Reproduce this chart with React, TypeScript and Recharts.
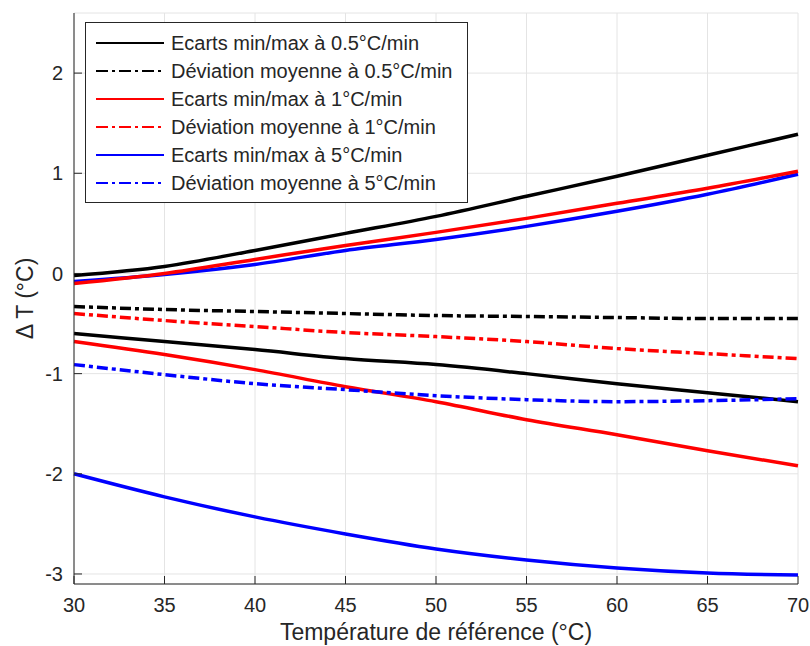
import { CartesianGrid, Label, Legend, Line, LineChart, XAxis, YAxis } from "recharts";

const temps = [30, 35, 40, 45, 50, 55, 60, 65, 70];

const black05Max = [-0.02, 0.07, 0.23, 0.4, 0.57, 0.77, 0.97, 1.18, 1.39];
const black05Mean = [-0.33, -0.36, -0.38, -0.4, -0.42, -0.43, -0.44, -0.45, -0.45];
const black05Min = [-0.6, -0.68, -0.76, -0.85, -0.91, -1.0, -1.1, -1.19, -1.28];
const red1Max = [-0.1, 0.0, 0.14, 0.28, 0.41, 0.55, 0.7, 0.85, 1.02];
const red1Mean = [-0.4, -0.47, -0.53, -0.59, -0.63, -0.68, -0.75, -0.8, -0.85];
const red1Min = [-0.68, -0.81, -0.96, -1.13, -1.28, -1.46, -1.61, -1.77, -1.92];
const blue5Max = [-0.08, -0.01, 0.09, 0.23, 0.34, 0.47, 0.62, 0.79, 0.99];
const blue5Mean = [-0.91, -1.01, -1.1, -1.16, -1.22, -1.26, -1.28, -1.27, -1.25];
const blue5Min = [-2.0, -2.23, -2.43, -2.6, -2.75, -2.86, -2.94, -2.99, -3.01];

const xTicks = [30, 35, 40, 45, 50, 55, 60, 65, 70];
const yTicks = [-3, -2, -1, 0, 1, 2];

const legendLabels = [
  "Ecarts min/max à 0.5°C/min",
  "Déviation moyenne à 0.5°C/min",
  "Ecarts min/max à 1°C/min",
  "Déviation moyenne à 1°C/min",
  "Ecarts min/max à 5°C/min",
  "Déviation moyenne à 5°C/min",
];

const INK = "#262626";
const FONT = "'Liberation Sans', Arial, Helvetica, sans-serif";
const DASHDOT = "11 4 4 4";
const BLACK = "#000000";
const RED = "#ff0000";
const BLUE = "#0000ff";

const legendStyles = [
  { color: BLACK, dash: undefined },
  { color: BLACK, dash: "12 4 3 4" },
  { color: RED, dash: undefined },
  { color: RED, dash: "12 4 3 4" },
  { color: BLUE, dash: undefined },
  { color: BLUE, dash: "12 4 3 4" },
];

const data = temps.map((t, i) => ({
  t,
  b05max: black05Max[i],
  b05mean: black05Mean[i],
  b05min: black05Min[i],
  r1max: red1Max[i],
  r1mean: red1Mean[i],
  r1min: red1Min[i],
  b5max: blue5Max[i],
  b5mean: blue5Mean[i],
  b5min: blue5Min[i],
}));

function LegendBox() {
  return (
    <div
      style={{
        border: `1.3px solid ${INK}`,
        background: "#fff",
        width: 381,
        padding: "6px 0 5px 0",
        fontFamily: FONT,
        fontSize: 20,
        color: INK,
      }}
    >
      {legendLabels.map((label, i) => (
        <div key={label} style={{ display: "flex", alignItems: "center", height: 28 }}>
          <svg width={85} height={10} style={{ flex: "none" }}>
            <line
              x1={10}
              x2={78}
              y1={5}
              y2={5}
              stroke={legendStyles[i].color}
              strokeWidth={2}
              strokeDasharray={legendStyles[i].dash}
            />
          </svg>
          <span style={{ whiteSpace: "nowrap" }}>{label}</span>
        </div>
      ))}
    </div>
  );
}

function YTitle(props: any) {
  const vb = props.viewBox || {};
  const cy = vb.y + vb.height / 2;
  const cx = 25;
  return (
    <text
      x={cx}
      y={cy}
      transform={`rotate(-90 ${cx} ${cy})`}
      textAnchor="middle"
      dominantBaseline="central"
      fill={INK}
      fontSize={23}
      fontFamily={FONT}
    >
      Δ T (°C)
    </text>
  );
}

function XTitle(props: any) {
  const vb = props.viewBox || {};
  return (
    <text
      x={vb.x + vb.width / 2}
      y={640}
      textAnchor="middle"
      fill={INK}
      fontSize={23}
      fontFamily={FONT}
    >
      Température de référence (°C)
    </text>
  );
}

const noLabel = () => <g />;

export default function App() {
  const tickStyle = { fill: INK, fontSize: 20, fontFamily: FONT };
  const solid = { strokeWidth: 3.5, dot: false, isAnimationActive: false, type: "monotone" as const };
  return (
    <div style={{ position: "absolute", left: 0, top: 0, width: 810, height: 646, background: "#fff" }}>
      <LineChart width={810} height={646} data={data} margin={{ top: 13, right: 12, bottom: 0, left: 0 }}>
        <CartesianGrid stroke="#e4e4e4" strokeWidth={1} />
        <XAxis
          dataKey="t"
          type="number"
          domain={[30, 70]}
          ticks={xTicks}
          height={62}
          stroke={INK}
          tickSize={-8}
          tickMargin={22}
          tick={tickStyle}
          interval={0}
        >
          <Label content={XTitle} />
        </XAxis>
        <XAxis
          xAxisId="top"
          orientation="top"
          dataKey="t"
          type="number"
          domain={[30, 70]}
          ticks={xTicks}
          height={0}
          stroke={INK}
          tickSize={-8}
          tick={noLabel}
          interval={0}
        />
        <YAxis
          type="number"
          domain={[-3.1, 2.6]}
          ticks={yTicks}
          width={74}
          stroke={INK}
          tickSize={-8}
          tickMargin={19}
          tick={tickStyle}
          interval={0}
          allowDataOverflow
        >
          <Label content={YTitle} />
        </YAxis>
        <YAxis
          yAxisId="right"
          orientation="right"
          type="number"
          domain={[-3.1, 2.6]}
          ticks={yTicks}
          width={0}
          stroke={INK}
          tickSize={-8}
          tick={noLabel}
          interval={0}
        />
        <Legend
          layout="vertical"
          verticalAlign="middle"
          align="center"
          content={() => <LegendBox />}
          wrapperStyle={{ left: 85, top: 22, width: "auto", height: "auto" }}
        />
        <Line dataKey="b5min" stroke={BLUE} {...solid} legendType="none" />
        <Line dataKey="b5max" stroke={BLUE} {...solid} />
        <Line dataKey="r1min" stroke={RED} {...solid} legendType="none" />
        <Line dataKey="r1max" stroke={RED} {...solid} />
        <Line dataKey="b05min" stroke={BLACK} {...solid} legendType="none" />
        <Line dataKey="b05max" stroke={BLACK} {...solid} />
        <Line dataKey="r1mean" stroke={RED} strokeDasharray={DASHDOT} {...solid} />
        <Line dataKey="b5mean" stroke={BLUE} strokeDasharray={DASHDOT} {...solid} />
        <Line dataKey="b05mean" stroke={BLACK} strokeDasharray={DASHDOT} {...solid} />
      </LineChart>
    </div>
  );
}
